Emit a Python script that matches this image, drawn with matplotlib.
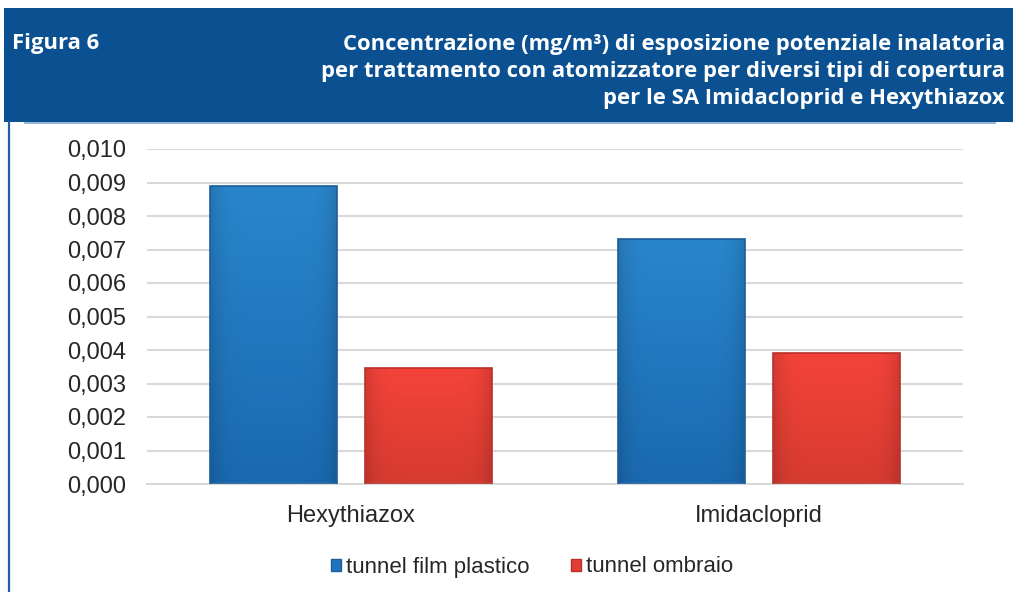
import numpy as np
import matplotlib
matplotlib.use('Agg')
import matplotlib.pyplot as plt
from matplotlib.patches import Rectangle
from matplotlib.lines import Line2D
from matplotlib.ticker import FuncFormatter

categories = ['Hexythiazox', 'Imidacloprid']
series_names = ['tunnel film plastico', 'tunnel ombraio']
film_plastico = [0.0089, 0.0073]
ombraio = [0.00345, 0.0039]
y_ticks = [0.000, 0.001, 0.002, 0.003, 0.004, 0.005, 0.006, 0.007, 0.008, 0.009, 0.010]
header_label = 'Figura 6'
header_title = ('Concentrazione (mg/m\u00b3) di esposizione potenziale inalatoria\n'
                'per trattamento con atomizzatore per diversi tipi di copertura\n'
                'per le SA Imidacloprid e Hexythiazox')

W, H = 1013, 592
fig = plt.figure(figsize=(W / 100, H / 100), dpi=100)
fig.patch.set_facecolor('white')

# header band
hdr_blue = '#0b5191'
fig.patches.append(Rectangle((4 / W, 1 - 122 / H), 1 - 4 / W, 114 / H,
                             transform=fig.transFigure, facecolor=hdr_blue,
                             edgecolor='none', zorder=0))
fig.lines.append(Line2D([25 / W, 995 / W], [1 - 122.5 / H, 1 - 122.5 / H],
                        transform=fig.transFigure, color='#7fa8d0', lw=1.2))
fig.lines.append(Line2D([8.5 / W, 8.5 / W], [0, 1 - 122 / H],
                        transform=fig.transFigure, color='#1f5fa0', lw=1.6))

fig.text(12 / W, 1 - 43 / H, header_label, color='white', fontsize=15.8,
         fontweight='bold', family='Open Sans', ha='left', va='center')
fig.text(1005 / W, 1 - 71.5 / H, header_title, color='white', fontsize=15.8,
         fontweight='bold', family='Open Sans', ha='right', va='center',
         multialignment='right', linespacing=1.4)

ax = fig.add_axes([147 / W, 1 - 484 / H, 816 / W, 335 / H])
x = np.arange(len(categories))
bw = 0.31
off = 0.19


def gradient_bars(bars, top_col, bot_col, edge):
    for b in bars:
        b.set_facecolor('none')
        b.set_edgecolor(edge)
        b.set_linewidth(1.2)
        b.set_zorder(3)
        bx, by = b.get_x(), b.get_y()
        w, h = b.get_width(), b.get_height()
        c1 = np.array(matplotlib.colors.to_rgb(top_col))
        c2 = np.array(matplotlib.colors.to_rgb(bot_col))
        t = np.linspace(0, 1, 64)[:, None]
        grad = (c1 * (1 - t) + c2 * t)[:, None, :]
        # darker side edges
        side = np.linspace(-1, 1, 32)
        shade = 1 - 0.12 * np.abs(side) ** 6
        img = grad * shade[None, :, None]
        im = ax.imshow(img, extent=[bx, bx + w, by, by + h], origin='upper',
                       aspect='auto', zorder=2, interpolation='bilinear')
        im.set_clip_path(b)


b1 = ax.bar(x - off, film_plastico, bw, label=series_names[0])
b2 = ax.bar(x + off, ombraio, bw, label=series_names[1])
gradient_bars(b1, '#2a86cc', '#1a69b0', '#1b5e9c')
gradient_bars(b2, '#f5433a', '#d63b30', '#b8302a')

ax.set_xlim(-0.5, 1.5)
ax.set_ylim(0, 0.010)
ax.set_yticks(y_ticks)
ax.yaxis.set_major_formatter(FuncFormatter(lambda v, p: f'{v:.3f}'.replace('.', ',')))
ax.set_xticks(x)
ax.set_xticklabels(categories)
ax.grid(axis='y', color='#d9d9d9', lw=1.5, zorder=0)
ax.set_axisbelow(True)
for s in ['top', 'right', 'left']:
    ax.spines[s].set_visible(False)
ax.spines['bottom'].set_color('#d9d9d9')
ax.spines['bottom'].set_linewidth(1.5)
ax.tick_params(axis='both', length=0, labelsize=17, labelcolor='#262626')
ax.tick_params(axis='y', pad=15)
ax.tick_params(axis='x', pad=15)
for lbl in ax.get_xticklabels() + ax.get_yticklabels():
    lbl.set_family('Liberation Sans')

handles = [Rectangle((0, 0), 1, 1, facecolor='#1f74bd', edgecolor='#1b5e9c'),
           Rectangle((0, 0), 1, 1, facecolor='#e23d33', edgecolor='#b8302a')]
fig.legend(handles, series_names, loc='center', bbox_to_anchor=(532 / W, 1 - 567 / H),
           ncol=2, frameon=False, handlelength=0.45, handleheight=0.45,
           handletextpad=0.2, columnspacing=1.9,
           prop={'family': 'Liberation Sans', 'size': 16})
for t in fig.legends[0].get_texts():
    t.set_color('#262626')

fig.savefig('out.png', dpi=100)
